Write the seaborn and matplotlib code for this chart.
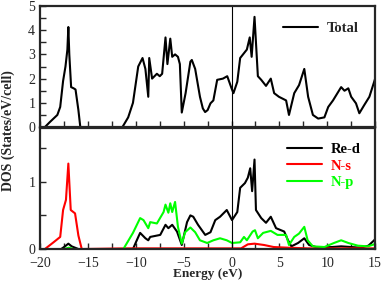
import matplotlib
matplotlib.use("Agg")
from matplotlib import pyplot as plt
from matplotlib.ticker import MultipleLocator
import seaborn as sns

# ----- data -----
energy_total = [-20, -19.5, -19.0, -18.2, -17.9, -17.6, -17.35, -17.15, -17.05, -16.95,
                -16.76, -16.5, -16.3, -16.0, -15.8, -11.4, -10.8, -10.3, -9.75, -9.3,
                -9.0, -8.7, -8.6, -8.3, -7.8, -7.5, -7.25, -6.9, -6.7, -6.4,
                -6.2, -5.9, -5.6, -5.4, -5.2, -4.8, -4.3, -4.15, -3.8, -3.3,
                -3.0, -2.76, -2.5, -2.2, -1.9, -1.5, -0.9, -0.45, 0.0, 0.2,
                0.6, 0.9, 1.2, 1.6, 1.9, 2.1, 2.4, 2.75, 3.1, 3.6,
                4.1, 4.45, 4.95, 5.7, 6.0, 6.55, 7.05, 7.6, 8.0, 8.5,
                9.05, 9.7, 10.1, 10.6, 11.45, 11.8, 12.2, 12.5, 13.0, 13.35,
                13.85, 14.4, 14.9, 15.0]
dos_total = [0, 0, 0.2, 0.5, 0.83, 1.9, 2.5, 3.2, 4.13, 3.0,
             1.65, 1.6, 1.55, 0.7, 0, 0, 0.4, 1.0, 2.5, 2.85,
             2.4, 1.25, 2.85, 2.0, 2.2, 2.1, 2.2, 3.7, 2.6, 3.65,
             2.9, 3.0, 2.9, 2.6, 0.6, 1.4, 2.7, 2.77, 2.4, 1.25,
             0.77, 0.62, 0.7, 0.98, 1.1, 1.95, 2.0, 2.1, 1.6, 1.4,
             1.87, 2.85, 3.0, 3.2, 3.7, 2.9, 4.55, 2.1, 1.95, 1.7,
             2.0, 1.4, 1.25, 1.1, 0.5, 1.4, 1.73, 2.4, 1.25, 0.5,
             0.35, 0.4, 0.83, 1.1, 1.65, 1.5, 1.6, 1.25, 0.98, 0.57,
             0.9, 1.25, 1.87, 2.0]

energy_red = [-20, -17.8, -17.4, -17.05, -16.7, -16.0, -10.3, -9.9, -9.55, -9.0,
              -8.7, -8.5, -7.45, -6.9, -6.6, -6.2, -5.7, -5.2, -4.65, -4.3,
              -4.0, -3.5, -2.75, -2.2, -1.7, -1.2, -0.5, 0.05, 0.6, 0.9,
              1.4, 1.7, 1.95, 2.15, 2.4, 2.55, 3.1, 3.6, 4.1, 4.65,
              5.5, 5.9, 6.25, 6.95, 7.6, 8.1, 9.05, 10.5, 11.45, 12.5,
              13.5, 14.3, 14.9, 15]
dos_red = [0, 0, 0.04, 0.08, 0.04, 0, 0, 0.13, 0.24, 0.16,
           0.13, 0.18, 0.21, 0.36, 0.31, 0.36, 0.26, 0.06, 0.4, 0.5,
           0.48, 0.36, 0.21, 0.25, 0.43, 0.48, 0.58, 0.43, 0.55, 0.91,
           0.98, 1.06, 1.2, 0.86, 1.33, 0.58, 0.46, 0.39, 0.48, 0.31,
           0.26, 0.13, 0.04, 0.09, 0.16, 0.06, 0.02, 0.03, 0.04, 0.03,
           0.02, 0.05, 0.13, 0.15]

energy_ns = [-20, -19.5, -18.6, -17.9, -17.6, -17.3, -17.05, -16.8, -16.35, -16.0,
             -15.65, -11.0, 1.0, 1.7, 2.4, 3.4, 4.4, 5.9, 8.0, 15]
dos_ns = [0, 0, 0.1, 0.18, 0.58, 0.73, 1.27, 0.58, 0.53, 0.2,
          0, 0.01, 0.01, 0.07, 0.08, 0.06, 0.03, 0.02, 0.01, 0.01]

energy_np = [-20, -17.5, -17.0, -16.5, -11.3, -10.3, -9.55, -9.2, -8.7, -8.5,
             -7.8, -7.1, -6.9, -6.6, -6.4, -6.2, -5.9, -5.6, -5.2, -4.85,
             -4.3, -3.8, -3.3, -2.55, -1.9, -1.2, -0.5, 0.05, 0.9, 1.3,
             1.6, 2.2, 2.45, 2.75, 3.3, 4.1, 4.8, 5.7, 6.0, 6.55,
             7.05, 7.6, 7.95, 8.5, 9.7, 10.7, 11.45, 12.2, 13.2, 14.25,
             14.9, 15]
dos_np = [0, 0, 0.02, 0, 0, 0.24, 0.46, 0.43, 0.31, 0.4,
          0.38, 0.55, 0.66, 0.54, 0.68, 0.55, 0.7, 0.33, 0.08, 0.25,
          0.32, 0.25, 0.13, 0.09, 0.13, 0.16, 0.13, 0.09, 0.1, 0.18,
          0.13, 0.26, 0.28, 0.16, 0.24, 0.27, 0.21, 0.21, 0.06, 0.18,
          0.23, 0.33, 0.13, 0.04, 0.03, 0.09, 0.13, 0.09, 0.05, 0.04,
          0.07, 0.08]

# ----- style -----
sns.set_style("ticks")
plt.rcParams["font.family"] = ["Liberation Serif", "DejaVu Serif"]

fig = plt.figure(figsize=(3.82, 2.83), dpi=100)
ax1 = fig.add_axes([0.105, 0.551, 0.877, 0.428])
ax2 = fig.add_axes([0.105, 0.12, 0.877, 0.428])

lw = 1.5
sns.lineplot(x=energy_total, y=dos_total, ax=ax1, color="black", lw=lw,
             label="Total", estimator=None)
sns.lineplot(x=energy_red, y=dos_red, ax=ax2, color="black", lw=lw,
             label="Re-d", estimator=None)
sns.lineplot(x=energy_ns, y=dos_ns, ax=ax2, color="#ff0000", lw=lw,
             label="N-s", estimator=None)
sns.lineplot(x=energy_np, y=dos_np, ax=ax2, color="#00ff00", lw=lw,
             label="N-p", estimator=None)

# nastaveni os
for ax in (ax1, ax2):
    ax.axvline(0, color="black", lw=0.8)
    ax.set_xlim(-20, 15)
    ax.xaxis.set_major_locator(MultipleLocator(5))
    ax.xaxis.set_minor_locator(MultipleLocator(2.5))
    ax.tick_params(which="both", direction="in", length=4, width=1,
                   labelsize=10, pad=2)
    ax.tick_params(axis="y", pad=3.5)
    for s in ax.spines.values():
        s.set_linewidth(1.6)
    ax.set_xlabel("")
    ax.set_ylabel("")

ax1.set_ylim(0, 5)
ax1.yaxis.set_major_locator(MultipleLocator(1))
ax1.yaxis.set_minor_locator(MultipleLocator(0.5))
ax1.tick_params(labelbottom=False)

ax2.set_ylim(0, 1.8)
ax2.yaxis.set_major_locator(MultipleLocator(1))
ax2.yaxis.set_minor_locator(MultipleLocator(0.5))
ax2.tick_params(axis="x", pad=5.5)

leg_font = {"weight": "bold", "size": 10.5}
l1 = ax1.legend(loc="upper right", frameon=False, prop=leg_font,
                handlelength=2.4, handletextpad=0.6, borderaxespad=0.7)
l2 = ax2.legend(loc="upper right", frameon=False, prop=leg_font,
                handlelength=2.4, handletextpad=0.6, borderaxespad=0.6,
                labelspacing=0.25)
for txt, line in zip(l2.get_texts(), l2.get_lines()):
    txt.set_color(line.get_color())

ax2.set_xlabel("Energy (eV)", fontweight="bold", fontsize=9.5, labelpad=-1)
fig.text(0.022, 0.54, "DOS (States/eV/cell)", rotation=90, ha="center",
         va="center", fontweight="bold", fontsize=10)

fig.savefig("out.png", dpi=100)
